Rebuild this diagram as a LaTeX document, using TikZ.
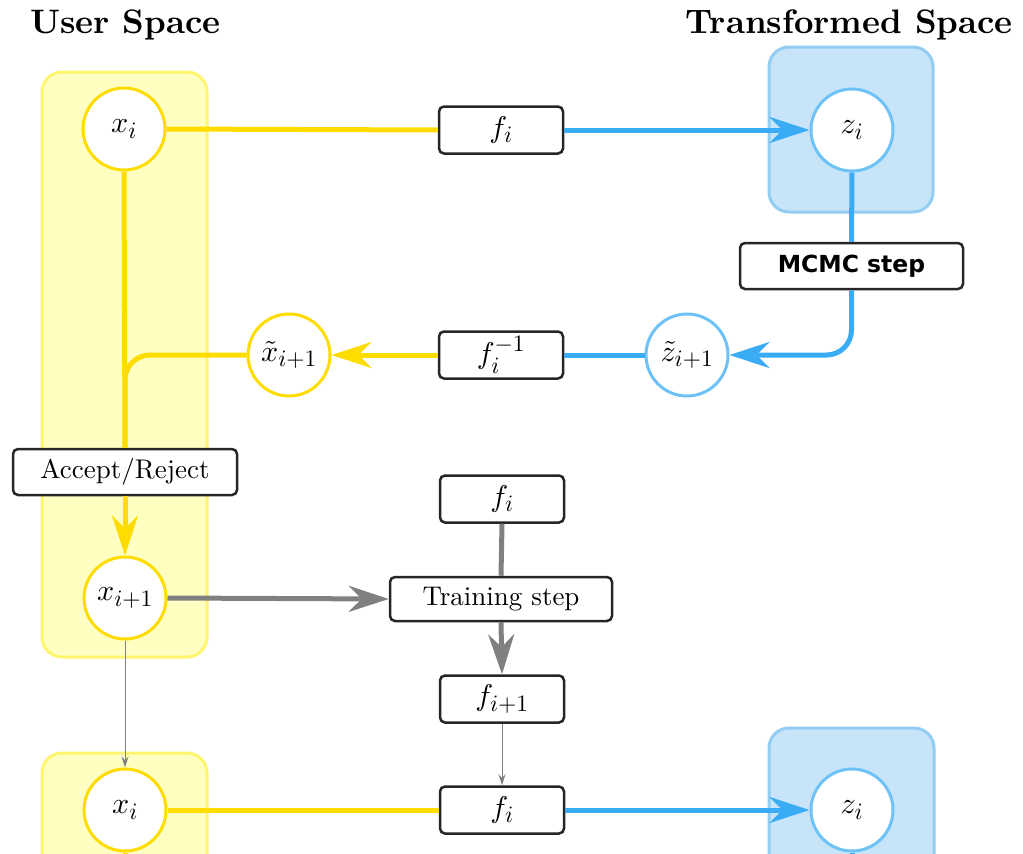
\documentclass[tikz,border=0pt]{standalone}
\usepackage{fontspec}
\setmainfont{lmroman10-regular}[Extension=.otf, BoldFont=lmroman10-bold, ItalicFont=lmroman10-italic, BoldItalicFont=lmroman10-bolditalic]
\newfontfamily\mcmcfont{DejaVu Sans}
\DeclareFontShape{OML}{cmm}{m}{it}{<->cmmi10}{}
\DeclareFontShape{OMS}{cmsy}{m}{n}{<->cmsy10}{}
\DeclareFontShape{OMX}{cmex}{m}{n}{<->cmex10}{}
\DeclareFontShape{OT1}{cmr}{m}{n}{<->cmr10}{}
\DeclareMathSizes{30}{30}{23.5}{18}
\usetikzlibrary{arrows.meta}
\definecolor{ylw}{HTML}{FFDC00}
\definecolor{ylwfill}{HTML}{FFFFC2}
\definecolor{ylwedge}{HTML}{FFF56E}
\definecolor{blu}{HTML}{3AABF5}
\definecolor{bluecirc}{HTML}{6EC2F7}
\definecolor{blufill}{HTML}{C7E4F8}
\definecolor{bluedge}{HTML}{92CDF3}
\definecolor{gry}{HTML}{808080}
\tikzset{
  txt/.style={font=\fontsize{27}{32}\selectfont},
  mtxt/.style={font=\fontsize{30}{34}\selectfont},
  ycirc/.style={circle, draw=ylw, line width=3pt, fill=white, minimum size=82pt, inner sep=0pt, mtxt},
  bcirc/.style={circle, draw=bluecirc, line width=3pt, fill=white, minimum size=82pt, inner sep=0pt, mtxt},
  fbox/.style={draw=black!85, line width=2.5pt, rounded corners=5pt, fill=white, minimum width=124pt, minimum height=47pt, inner sep=0pt, mtxt},
  wbox/.style={draw=black!85, line width=2.5pt, rounded corners=5pt, fill=white, minimum width=223pt, minimum height=46pt, inner sep=0pt, txt},
  ycont/.style={fill=ylwfill, draw=ylwedge, line width=3pt, rounded corners=20pt},
  bcont/.style={fill=blufill, draw=bluedge, line width=3pt, rounded corners=20pt},
  yline/.style={draw=ylw, line width=5pt},
  bline/.style={draw=blu, line width=5pt},
  gline/.style={draw=gry, line width=5pt},
  thin/.style={draw=gry, line width=1pt, -{Stealth[length=11pt,width=7pt]}},
  bigtip/.style={-{Stealth[length=40pt,width=26pt,inset=13pt]}},
  title/.style={font=\fontsize{34}{40}\selectfont\bfseries},
}
\begin{document}
\begin{tikzpicture}[x=1pt,y=-1pt]
\useasboundingbox (0,0) rectangle (1023,854);
\clip (0,0) rectangle (1023,854);
\fill[white] (0,0) rectangle (1023,854);
% titles
\node[title, anchor=base west, inner sep=0pt] (ttl1) at (30,33) {User Space};
\node[title, anchor=base east, inner sep=0pt] (ttl2) at (1013,33) {Transformed Space};
% containers
\path[ycont] (42,72) rectangle (207,657);
\path[bcont] (769,47) rectangle (933,212);
\path[ycont] (42,753) rectangle (207,900);
\path[bcont] (769,728) rectangle (934,900);
% nodes
\node[ycirc] (xi) at (124,129) {$x_i$};
\node[fbox] (fi) at (501,130) {$f_i$};
\node[bcirc] (zi) at (852,130) {$z_i$};
\node[wbox, font=\fontsize{23.5}{28}\selectfont\mcmcfont\bfseries] (mcmc) at (851.5,266) {MCMC step};
\node[bcirc] (zt) at (687,355) {$\tilde{z}_{i+1}$};
\node[fbox] (finv) at (501,355) {$f_i^{-1}$};
\node[ycirc] (xt) at (289,355) {$\tilde{x}_{i+1}$};
\node[wbox, minimum width=224pt] (acc) at (125,472) {Accept/Reject};
\node[ycirc] (xn) at (125,598) {$x_{i+1}$};
\node[fbox] (fm) at (502,499) {$f_i$};
\node[wbox, minimum width=222pt, minimum height=44pt] (train) at (501,599) {Training step};
\node[fbox] (fn) at (502,699) {$f_{i+1}$};
\node[ycirc] (xb) at (125,810) {$x_i$};
\node[fbox] (fb) at (502,810) {$f_i$};
\node[bcirc] (zb) at (852,810) {$z_i$};
\coordinate (xbend) at (125,860);
\coordinate (zbend) at (852,860);
% connectors
\draw[yline] (xi.east) -- (fi.west);
\draw[bline, bigtip] (fi.east) -- (zi.west);
\draw[bline] (zi.south) -- (mcmc.north);
\draw[bline, bigtip, rounded corners=25pt] (mcmc.south) |- (zt.east);
\draw[bline] (zt.west) -- (finv.east);
\draw[yline, bigtip] (finv.west) -- (xt.east);
\draw[yline, rounded corners=25pt] (xt.west) -| (acc.north);
\draw[yline] (xi.south) -- (acc.north);
\draw[yline, bigtip] (acc.south) -- (xn.north);
\draw[gline, bigtip] (xn.east) -- (train.west);
\draw[gline] (fm.south) -- (train.north);
\draw[gline, bigtip] (train.south) -- (fn.north);
\draw[thin] (xn.south) -- (xb.north);
\draw[thin] (fn.south) -- (fb.north);
\draw[yline] (xb.east) -- (fb.west);
\draw[bline, bigtip] (fb.east) -- (zb.west);
\draw[yline] (xb.south) -- (xbend);
\draw[bline] (zb.south) -- (zbend);
\end{tikzpicture}
\end{document}
